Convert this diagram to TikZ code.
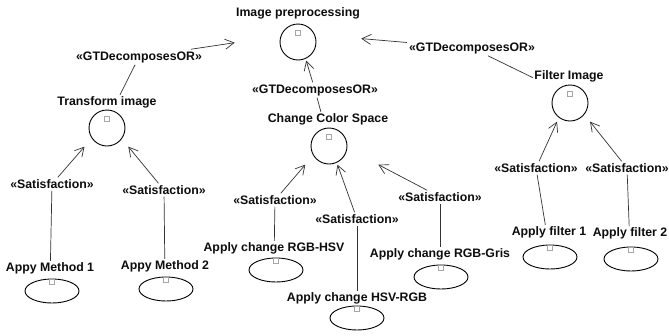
\documentclass[tikz,border=0pt]{standalone}
\usepackage{fontspec}
\setmainfont{Liberation Sans}
\usetikzlibrary{arrows.meta,fit,shapes.geometric}

\begin{document}
\begin{tikzpicture}[x=1pt,y=-1pt,
  txt/.style={font=\fontsize{12.3}{14}\selectfont\bfseries, text=black!95, inner sep=1pt},
  stereo/.style={txt, inner sep=2pt},
  goal/.style={circle, draw=black, line width=0.9pt, minimum size=36pt, inner sep=0pt},
  task/.style={ellipse, draw=black, line width=0.9pt, minimum width=54pt, minimum height=24pt, inner sep=0pt},
  knob/.style={draw=black!35, fill=white, minimum size=5pt, inner sep=0pt, line width=0.6pt},
  box/.style={inner sep=0pt, draw=none},
  link/.style={draw=black!80, line width=0.7pt},
  arr/.style={link, -{Straight Barb[length=9pt,width=10pt]}}
]
\fill[white] (0,0) rectangle (669,335);
\useasboundingbox (0,0) rectangle (669,335);

% goals: label, circle, small marker, and an enclosing box for the links
\node[txt] (ipL) at (298,13) {Image preprocessing};
\node[goal] (ipC) at (298,42) {};
\node[knob] (ipK) at (298,33) {};
\node[box, fit=(ipL)(ipC)] (ip) {};

\node[txt] (trL) at (107,102) {Transform image};
\node[goal] (trC) at (107,128) {};
\node[knob] (trK) at (107,119) {};
\node[box, fit=(trL)(trC)] (tr) {};

\node[txt] (csL) at (328,119) {Change Color Space};
\node[goal] (csC) at (329,146) {};
\node[knob] (csK) at (329,137) {};
\node[box, fit=(csL)(csC)] (cs) {};

\node[txt] (fiL) at (569,76) {Filter Image};
\node[goal] (fiC) at (570,103) {};
\node[knob] (fiK) at (570,94) {};
\node[box, fit=(fiL)(fiC)] (fi) {};

% tasks: label, ellipse, small marker, enclosing box
\node[txt] (m1L) at (50,268) {Appy Method 1};
\node[task] (m1E) at (52,291) {};
\node[knob] (m1K) at (52,282) {};
\node[box, fit=(m1L)(m1E)] (m1) {};

\node[txt] (m2L) at (165,266) {Appy Method 2};
\node[task] (m2E) at (166,289) {};
\node[knob] (m2K) at (166,280) {};
\node[box, fit=(m2L)(m2E)] (m2) {};

\node[txt] (rhL) at (274,248) {Apply change RGB-HSV};
\node[task] (rhE) at (276,270) {};
\node[knob] (rhK) at (276,261) {};
\node[box, fit=(rhL)(rhE)] (rh) {};

\node[txt] (hrL) at (357,298) {Apply change HSV-RGB};
\node[task] (hrE) at (357,318) {};
\node[knob] (hrK) at (357,309) {};
\node[box, fit=(hrL)(hrE)] (hr) {};

\node[txt] (rgL) at (440,254) {Apply change RGB-Gris};
\node[task] (rgE) at (441,277) {};
\node[knob] (rgK) at (441,268) {};
\node[box, fit=(rgL)(rgE)] (rg) {};

\node[txt] (f1L) at (549,232) {Apply filter 1};
\node[task] (f1E) at (550,257) {};
\node[knob] (f1K) at (550,248) {};
\node[box, fit=(f1L)(f1E)] (f1) {};

\node[txt] (f2L) at (630,233) {Apply filter 2};
\node[task] (f2E) at (631,259) {};
\node[knob] (f2K) at (631,250) {};
\node[box, fit=(f2L)(f2E)] (f2) {};

% link stereotypes
\node[stereo] (d1) at (139,57) {«GTDecomposesOR»};
\node[stereo] (d2) at (315,90) {«GTDecomposesOR»};
\node[stereo] (d3) at (472,48) {«GTDecomposesOR»};
\node[stereo] (s1) at (52,184) {«Satisfaction»};
\node[stereo] (s2) at (164,190) {«Satisfaction»};
\node[stereo] (s3) at (275,200) {«Satisfaction»};
\node[stereo] (s4) at (357,219) {«Satisfaction»};
\node[stereo] (s5) at (440,197) {«Satisfaction»};
\node[stereo] (s6) at (536,168) {«Satisfaction»};
\node[stereo] (s7) at (627,168) {«Satisfaction»};

% decompositions
\draw[link] (tr) -- (d1); \draw[arr] (d1) -- (ip);
\draw[link] (cs) -- (d2); \draw[arr] (d2) -- (ip);
\draw[link] (fi) -- (d3); \draw[arr] (d3) -- (ip);

% satisfactions
\draw[link] (m1) -- (s1); \draw[arr] (s1) -- (tr);
\draw[link] (m2) -- (s2); \draw[arr] (s2) -- (tr);
\draw[link] (rh) -- (s3); \draw[arr] (s3) -- (cs);
\draw[link] (hr) -- (s4); \draw[arr] (s4) -- (cs);
\draw[link] (rg) -- (s5); \draw[arr] (s5) -- (cs);
\draw[link] (f1) -- (s6); \draw[arr] (s6) -- (fi);
\draw[link] (f2) -- (s7); \draw[arr] (s7) -- (fi);
\end{tikzpicture}
\end{document}
